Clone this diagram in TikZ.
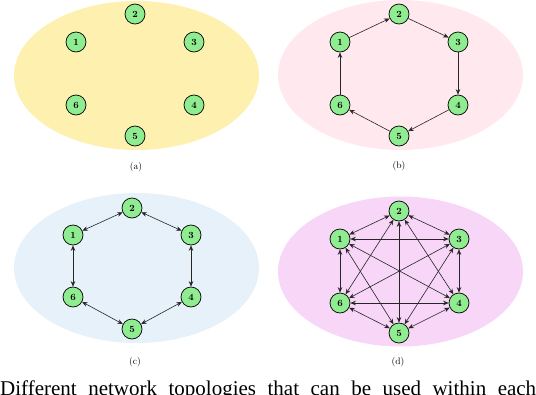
\documentclass[tikz,border=0pt]{standalone}
\usepackage{fontspec}
\newfontfamily\capfont{Liberation Serif}
\usetikzlibrary{arrows.meta}
\definecolor{bgA}{RGB}{254,241,175}
\definecolor{bgB}{RGB}{255,233,238}
\definecolor{bgC}{RGB}{230,241,249}
\definecolor{bgD}{RGB}{247,214,247}
\definecolor{nodegreen}{RGB}{144,236,144}
\tikzset{
  vtx/.style={circle, draw=black, line width=0.7pt, fill=nodegreen, minimum size=20pt, inner sep=0pt, font=\fontsize{9.5}{11}\selectfont\bfseries},
  lnk/.style={line width=0.6pt, draw=black!85},
  one/.style={lnk, -{Stealth[length=5.5pt,width=4.5pt]}},
  two/.style={lnk, {Stealth[length=5.5pt,width=4.5pt]}-{Stealth[length=5.5pt,width=4.5pt]}},
  subcap/.style={font=\fontsize{9.5}{11}\selectfont, inner sep=0pt}
}
\begin{document}
\begin{tikzpicture}[x=1pt,y=-1pt]
\useasboundingbox (0,0) rectangle (536,394);
% backgrounds
\fill[bgA] (136.5,75.5) ellipse [x radius=122.5, y radius=74.5];
\fill[bgB] (400.5,75) ellipse [x radius=122.5, y radius=75];
\fill[bgC] (136.5,268) ellipse [x radius=122.5, y radius=75];
\fill[bgD] (400.5,271.5) ellipse [x radius=122.5, y radius=75];
% (a)
\node[vtx] (a1) at (76,42) {1};
\node[vtx] (a2) at (135,14) {2};
\node[vtx] (a3) at (194,42) {3};
\node[vtx] (a4) at (194,105) {4};
\node[vtx] (a5) at (135,136) {5};
\node[vtx] (a6) at (76,105) {6};
\node[subcap] (capa) at (136,167) {(a)};
% (b)
\node[vtx] (b1) at (340,42) {1};
\node[vtx] (b2) at (399,14) {2};
\node[vtx] (b3) at (458,42) {3};
\node[vtx] (b4) at (458,105) {4};
\node[vtx] (b5) at (399,136) {5};
\node[vtx] (b6) at (340,105) {6};
\node[subcap] (capb) at (399,166) {(b)};
\draw[one] (b1) -- (b2);
\draw[one] (b2) -- (b3);
\draw[one] (b3) -- (b4);
\draw[one] (b4) -- (b5);
\draw[one] (b5) -- (b6);
\draw[one] (b6) -- (b1);
% (c)
\node[vtx] (c1) at (73,235) {1};
\node[vtx] (c2) at (132,208) {2};
\node[vtx] (c3) at (191,235) {3};
\node[vtx] (c4) at (191,297) {4};
\node[vtx] (c5) at (132,329) {5};
\node[vtx] (c6) at (73,297) {6};
\node[subcap] (capc) at (135,362) {(c)};
\draw[two] (c1) -- (c2);
\draw[two] (c2) -- (c3);
\draw[two] (c3) -- (c4);
\draw[two] (c4) -- (c5);
\draw[two] (c5) -- (c6);
\draw[two] (c6) -- (c1);
% (d)
\node[vtx] (d1) at (340,239) {1};
\node[vtx] (d2) at (399,211) {2};
\node[vtx] (d3) at (459,239) {3};
\node[vtx] (d4) at (459,303) {4};
\node[vtx] (d5) at (399,333) {5};
\node[vtx] (d6) at (340,303) {6};
\node[subcap] (capd) at (398,362) {(d)};
\foreach \p/\q in {1/2,1/3,1/4,1/5,1/6,2/3,2/4,2/5,2/6,3/4,3/5,3/6,4/5,4/6,5/6}
  \draw[two] (d\p) -- (d\q);
% cut-off caption line
\begin{scope}
\clip (0,0) rectangle (536,394);
\node[anchor=base west, inner sep=0pt, font=\capfont\fontsize{21}{25}\selectfont] (maincap) at (0,395.5)
  {\makebox[536pt][s]{Different network topologies that can be used within each}};
\end{scope}
\end{tikzpicture}
\end{document}
